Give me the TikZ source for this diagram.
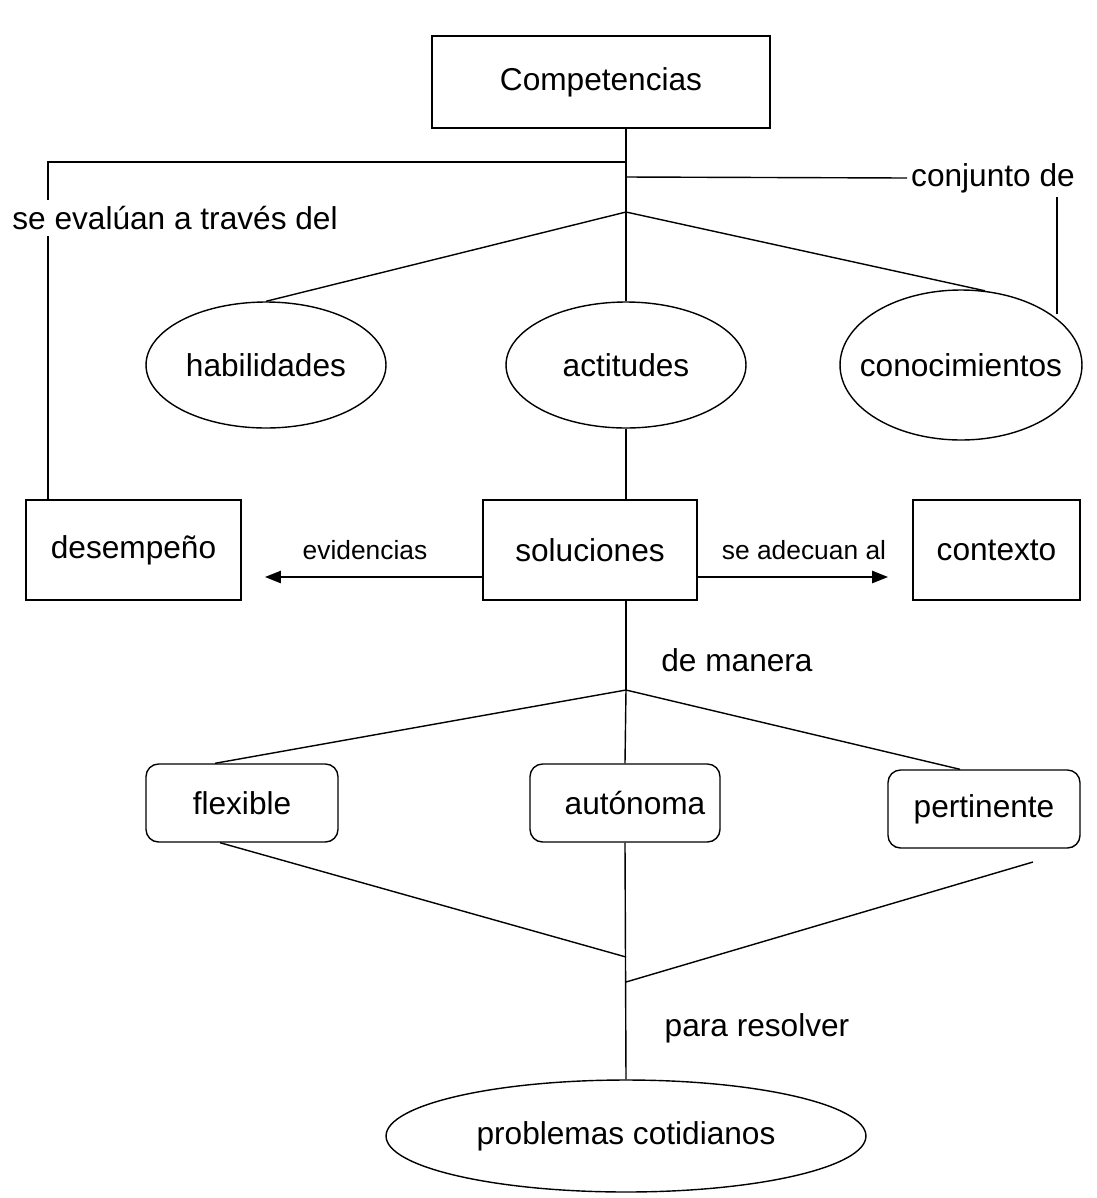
\documentclass[tikz,border=0pt]{standalone}
\usepackage{fontspec}
\setmainfont{Liberation Sans}
\usetikzlibrary{arrows.meta}
\usetikzlibrary{shapes.geometric}
\usetikzlibrary{positioning}

\begin{document}
\begin{tikzpicture}[x=0.02cm, y=-0.02cm, line width=0.8pt,
font=\fontsize{18}{21}\selectfont,
box/.style={draw, rectangle, inner sep=0pt, minimum height=2cm},
oval/.style={draw, ellipse, inner sep=0pt},
rbox/.style={draw, rectangle, rounded corners=0.25cm, inner sep=0pt,
minimum width=3.84cm, minimum height=1.56cm},
small/.style={font=\fontsize{15}{18}\selectfont},
arr/.style={-{Triangle[length=9pt, width=7pt]}}]
\useasboundingbox (0,0) rectangle (1097,1198);
\node[box, minimum width=6.76cm, minimum height=1.84cm] (comp) at (601,82) {Competencias};
\node[oval, minimum width=4.8cm, minimum height=2.52cm, label={center:habilidades}] (hab) at (266,365) {};
\node[oval, minimum width=4.8cm, minimum height=2.52cm, label={center:actitudes}] (act) at (626,365) {};
\node[oval, minimum width=4.84cm, minimum height=3cm, label={center:conocimientos}] (con) at (961,365) {};
\node[box, minimum width=4.3cm] (des) at (133.5,550) {desempeño};
\node[box, minimum width=4.28cm] (sol) at (590,550) {soluciones};
\node[box, minimum width=3.34cm] (ctx) at (996.5,550) {contexto};
\node[rbox] (flex) at (242,803) {flexible};
\node[rbox, minimum width=3.8cm] (aut) at (625,803) {\hspace{0.4cm}autónoma};
\node[rbox] (per) at (984,809) {pertinente};
\node[oval, minimum width=9.6cm, minimum height=2.24cm, label={center:problemas cotidianos}] (prob) at (626,1136) {};
% labels on the links
\node (eval) at (175,218) {se evalúan a través del};
\node[anchor=west, inner sep=2pt] (conj) at (907,178) {conjunto de};
\node[small] (evi) at (365,550) {evidencias};
\node[small] (adc) at (804,550) {se adecuan al};
\node (man) at (737,660) {de manera};
\node (para) at (757,1028) {para resolver};
% upper part
\coordinate (k1) at (626,162);
\coordinate (k2) at (626,177);
\coordinate (k3) at (626,212);
\coordinate (l1) at (48,162);
\coordinate (c2) at (1057,197);
\draw (k1 |- comp.south) -- (act.north);
\draw (k1) -- (l1) -- (l1 |- eval.north);
\draw (l1 |- eval.south) -- (l1 |- des.north);
\draw (k2) -- (conj.west);
\draw (c2) -- (c2 |- con.30);
\foreach \i in {hab.north, con.72}{
\draw (k3) -- (\i);}
\draw (act.south) -- (act.south |- sol.north);
% arrows
\coordinate (ev) at (265,577);
\coordinate (ad) at (888,577);
\draw[arr] (sol.west |- ev) -- (ev);
\draw[arr] (sol.east |- ad) -- (ad);
% lower part
\coordinate (m1) at (626,690);
\coordinate (j1) at (626,957);
\coordinate (j2) at (626,982);
\coordinate (q1) at (1033,862);
\draw (act.south |- sol.south) -- (m1);
\draw (m1) -- ([xshift=-0.54cm]flex.north);
\draw (m1) -- (aut.north);
\draw (m1) -- ([xshift=-0.48cm]per.north);
\draw ([xshift=-0.44cm]flex.south) -- (j1);
\draw (q1) -- (j2);
\draw (aut.south) -- (prob.north);
\end{tikzpicture}
\end{document}
